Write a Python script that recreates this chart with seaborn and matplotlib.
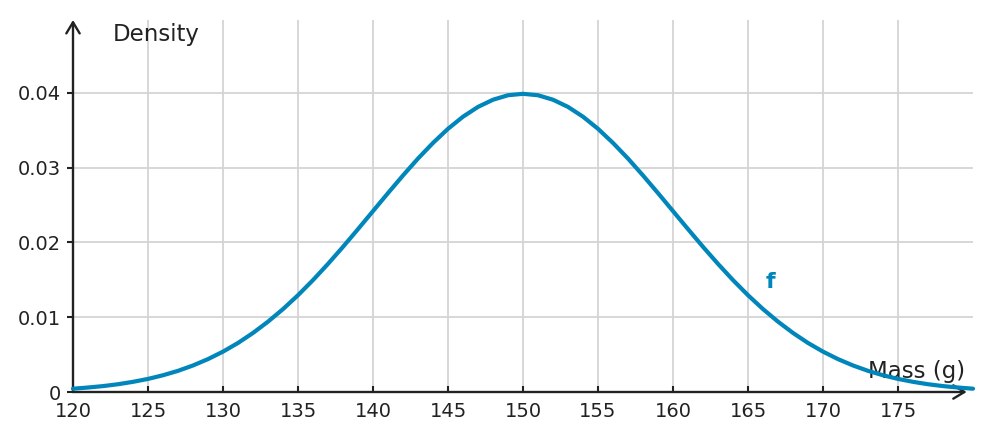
import matplotlib
matplotlib.use("Agg")
import matplotlib.pyplot as plt
import seaborn as sns
import pandas as pd

mass = list(range(120, 181))
left_half = [0.00044, 0.00060, 0.00079, 0.00104, 0.00136, 0.00175, 0.00224, 0.00283,
             0.00355, 0.00440, 0.00540, 0.00656, 0.00790, 0.00941, 0.01109, 0.01295,
             0.01497, 0.01714, 0.01942, 0.02179, 0.02420, 0.02661, 0.02897, 0.03123,
             0.03332, 0.03521, 0.03683, 0.03814, 0.03910, 0.03970]
peak = [0.03989]
right_half = [0.03970, 0.03910, 0.03814, 0.03683, 0.03521, 0.03332, 0.03123, 0.02897,
              0.02661, 0.02420, 0.02179, 0.01942, 0.01714, 0.01497, 0.01295, 0.01109,
              0.00941, 0.00790, 0.00656, 0.00540, 0.00440, 0.00355, 0.00283, 0.00224,
              0.00175, 0.00136, 0.00104, 0.00079, 0.00060, 0.00044]
density = left_half + peak + right_half
x_ticks = [120, 125, 130, 135, 140, 145, 150, 155, 160, 165, 170, 175]
y_ticks = [0, 0.01, 0.02, 0.03, 0.04]
y_ticklabels = ["0", "0.01", "0.02", "0.03", "0.04"]

df = pd.DataFrame({"mass": mass, "density": density})

sns.set_theme(style="white")
plt.rcParams['font.family'] = ['DejaVu Sans']

fig = plt.figure(figsize=(9.91, 4.41), dpi=100)
ax = fig.add_axes([73/991, 49/441, 900/991, 372/441])

blue = "#0086BA"
dark = "#222222"

ax.set_xlim(120, 180)
ax.set_ylim(0, 372/7475)

for x in x_ticks[1:]:
    ax.axvline(x, color="#d4d4d4", lw=1.3, zorder=0)
for y in y_ticks[1:]:
    ax.axhline(y, color="#d4d4d4", lw=1.3, zorder=0)

sns.lineplot(data=df, x="mass", y="density", ax=ax, color=blue, lw=3.0, zorder=5,
             clip_on=False)

for s in ax.spines.values():
    s.set_visible(False)

ax.annotate("", xy=(0.993, 0), xytext=(0, 0), xycoords="axes fraction",
            arrowprops=dict(arrowstyle="->,head_length=0.5,head_width=0.3", color=dark,
                            lw=1.7, mutation_scale=16, shrinkA=0, shrinkB=0), zorder=4)
ax.annotate("", xy=(0, 1.0), xytext=(0, 0), xycoords="axes fraction",
            arrowprops=dict(arrowstyle="->,head_length=0.5,head_width=0.3", color=dark,
                            lw=1.7, mutation_scale=16, shrinkA=0, shrinkB=0), zorder=4)

ax.set_xticks(x_ticks)
ax.set_xticklabels([str(v) for v in x_ticks])
ax.set_yticks(y_ticks)
ax.set_yticklabels(y_ticklabels)
ax.tick_params(axis="x", direction="in", length=4, width=1.5, color=dark,
               labelsize=14, labelcolor=dark, pad=7, bottom=True)
ax.tick_params(axis="y", direction="out", length=4, width=1.5, color=dark,
               labelsize=14, labelcolor=dark, pad=5, left=True)
ax.set_xlabel("")
ax.set_ylabel("")

ax.text(0.044, 0.96, "Density", transform=ax.transAxes, fontsize=16.5,
        color=dark, ha="left", va="center")
ax.text(0.991, 0.054, "Mass (g)", transform=ax.transAxes, fontsize=16.5,
        color=dark, ha="right", va="center", zorder=3)
ax.text(166.5, 0.0147, "f", fontsize=16, fontweight="bold", color=blue,
        ha="center", va="center")

fig.savefig("out.png", dpi=100)
